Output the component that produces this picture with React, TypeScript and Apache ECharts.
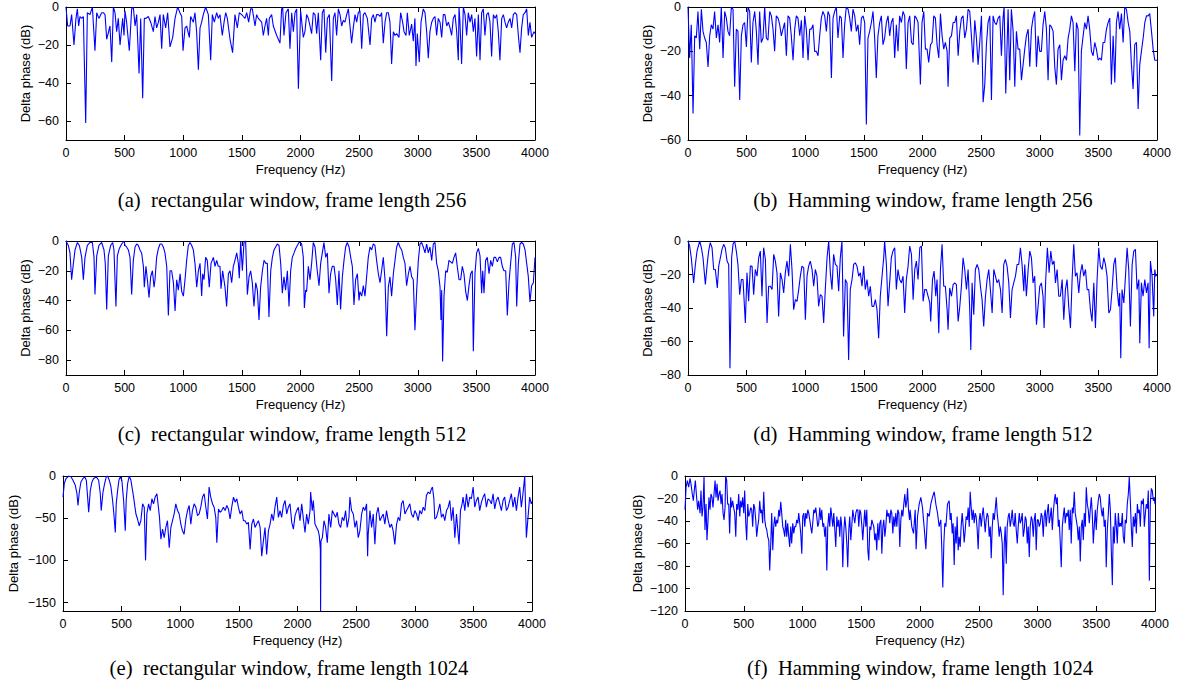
import React, { useEffect, useRef } from 'react';
import * as echarts from 'echarts';

type Pt = [number, number];

// ---------- data (frequency in Hz, delta phase in dB) ----------
const freqTicks = [0, 500, 1000, 1500, 2000, 2500, 3000, 3500, 4000];

const yTicksA = [0, -20, -40, -60];
const yTicksB = [0, -20, -40, -60];
const yTicksC = [0, -20, -40, -60, -80];
const yTicksD = [0, -20, -40, -60, -80];
const yTicksE = [0, -50, -100, -150];
const yTicksF = [0, -20, -40, -60, -80, -100, -120];

const yMinA = -70;
const yMinB = -60;
const yMinC = -90;
const yMinD = -80;
const yMinE = -160;
const yMinF = -120;

const captions = [
  '(a)\u00a0\u00a0rectangular window, frame length 256',
  '(b)\u00a0\u00a0Hamming window, frame length 256',
  '(c)\u00a0\u00a0rectangular window, frame length 512',
  '(d)\u00a0\u00a0Hamming window, frame length 512',
  '(e)\u00a0\u00a0rectangular window, frame length 1024',
  '(f)\u00a0\u00a0Hamming window, frame length 1024',
];

const rect256: Pt[] = [
  [0,0],[14,-10],[34,-10],[48,-4],[68,-20],[85,-6],[97,-1],[108,-10],[119,-5],[134,-6],[148,-5],[168,-61],[182,-3],[205,-4],[225,0],[247,-23],[262,-3],[281,-6],[304,-3],[318,-3],[333,-4],[347,-17],[375,-10],[390,-29],[404,0],[418,-3],[432,-13],[446,-6],[461,-20],[483,-6],[495,-15],[503,-2],[517,-8],[540,-23],[560,-1],[574,0],[589,-10],[603,-4],[623,-35],[637,-6],[654,-48],[668,-6],[682,-6],[702,-5],[722,-8],[745,-13],[759,-5],[773,-11],[788,-8],[802,-4],[816,-22],[830,-4],[850,-11],[867,-3],[887,-21],[910,-16],[930,-6],[952,0],[972,-3],[987,-5],[998,-23],[1015,-11],[1029,-10],[1052,-16],[1063,-5],[1086,-8],[1100,-3],[1114,-13],[1129,-33],[1143,-11],[1157,-8],[1171,-4],[1191,0],[1214,-4],[1234,-28],[1248,-4],[1265,-8],[1285,-3],[1299,-6],[1313,-4],[1333,-15],[1348,-8],[1362,-3],[1376,-6],[1399,-17],[1421,-24],[1441,-4],[1461,-11],[1478,-3],[1498,-4],[1512,-5],[1527,-6],[1541,-3],[1558,-8],[1575,-1],[1589,-1],[1612,-10],[1626,-4],[1640,-6],[1669,-8],[1683,-15],[1697,-10],[1711,-6],[1726,-15],[1734,-6],[1754,-4],[1768,-10],[1797,-15],[1825,-19],[1839,-1],[1848,0],[1859,-15],[1876,-3],[1896,-1],[1910,-22],[1925,-3],[1939,-13],[1953,-3],[1967,-1],[1982,-43],
  [2001,-2],[2024,-16],[2038,-13],[2052,-4],[2067,-6],[2081,-10],[2095,-14],[2109,-3],[2124,-4],[2138,-14],[2152,-3],[2172,-28],[2186,-3],[2200,-1],[2215,-24],[2229,-6],[2246,-4],[2266,-39],[2280,-6],[2294,-3],[2308,-15],[2323,-1],[2337,-4],[2351,-10],[2365,-7],[2379,-8],[2394,-4],[2408,-1],[2422,-10],[2436,-19],[2450,-11],[2465,-4],[2479,-8],[2493,-3],[2507,-2],[2522,-22],[2536,-4],[2550,-3],[2570,-6],[2593,-20],[2607,-6],[2621,-4],[2635,-8],[2649,-4],[2664,-4],[2678,-5],[2692,-3],[2706,-19],[2721,-8],[2735,-3],[2749,-3],[2763,-8],[2777,-30],[2792,-13],[2806,-15],[2820,-14],[2840,-16],[2854,-3],[2871,-8],[2883,-13],[2900,-15],[2911,-3],[2928,-15],[2948,-9],[2962,-18],[2976,-6],[2985,-31],[2996,-14],[3013,-29],[3028,-8],[3047,-1],[3062,-3],[3076,-13],[3090,-27],[3104,-13],[3119,-8],[3133,-6],[3147,-5],[3161,-15],[3175,-6],[3190,-8],[3204,-16],[3218,-4],[3232,-4],[3247,-10],[3261,-8],[3275,-11],[3289,-15],[3303,-6],[3318,-4],[3332,-13],[3346,-28],[3352,0],[3360,-8],[3374,-30],[3389,0],[3403,-4],[3417,-15],[3431,-3],[3446,-8],[3460,-4],[3474,-13],[3488,-6],[3502,-26],[3517,-4],[3531,-28],[3545,-3],[3559,-1],[3573,-15],[3588,-4],[3602,-3],[3616,-8],[3630,-26],[3645,-4],[3659,-6],[3673,-4],[3687,-13],[3701,-28],[3716,-6],[3730,-4],[3744,-8],[3758,-11],[3772,-8],[3787,-6],[3801,-11],[3815,-4],[3829,-3],[3844,-4],[3858,-15],[3872,-24],[3886,-11],[3900,-4],[3915,-3],[3929,-1],[3943,-15],[3957,-8],[3971,-16],[3991,-13],[4000,-14],
];

const hamm256: Pt[] = [
  [0,0],[14,-23],[28,-8],[43,-48],[57,-13],[71,-14],[85,-2],[100,-19],[114,-1],[128,-11],[142,-14],[156,-16],[171,-27],[185,-13],[199,-8],[213,-10],[227,-2],[242,-14],[256,-8],[270,-16],[284,0],[299,-23],[313,-2],[327,-5],[341,-11],[355,-13],[370,0],[384,-1],[398,-36],[412,-10],[426,-11],[441,-42],[455,-13],[469,-8],[483,-7],[498,-18],[512,0],[526,-2],[540,-25],[554,-7],[569,-2],[583,-11],[597,-26],[611,-2],[625,-16],[640,-14],[654,0],[668,-14],[682,-15],[697,-2],[711,-4],[725,-10],[739,-20],[753,-4],[768,-5],[782,-8],[796,-13],[810,-10],[824,-7],[839,-22],[853,-4],[867,-5],[881,-13],[896,-24],[910,-10],[924,-4],[938,-5],[953,-13],[967,-6],[981,-23],[995,-4],[1009,-10],[1024,-24],[1038,-10],[1052,-10],[1066,-8],[1080,-20],[1095,-20],[1109,-22],[1123,-13],[1137,-5],[1151,-2],[1166,-4],[1180,-11],[1194,-2],[1208,-4],[1223,-32],[1237,-5],[1251,-2],[1265,0],[1279,-14],[1294,-4],[1308,-5],[1322,-23],[1336,-8],[1350,0],[1365,-1],[1379,-5],[1393,-11],[1407,-1],[1422,-4],[1436,-11],[1450,-8],[1464,-17],[1479,-5],[1493,-4],[1507,-7],[1521,-53],[1535,-14],[1549,-11],[1564,-7],[1578,-2],[1592,-14],[1606,-32],[1620,-13],[1635,-7],[1649,-4],[1663,-17],[1677,-14],[1692,-7],[1706,-4],[1720,-13],[1734,-7],[1748,-5],[1763,-23],[1777,-8],[1791,-20],[1805,-4],[1820,-7],[1834,-2],[1848,-4],[1862,-28],[1877,-7],[1891,-4],
  [1906,-16],[1920,-17],[1934,-4],[1948,-5],[1962,-7],[1982,-35],[1996,-7],[2011,-2],[2025,-19],[2039,-19],[2053,-25],[2068,-17],[2082,-16],[2096,-4],[2110,-5],[2124,-17],[2139,-23],[2153,-3],[2167,-13],[2181,-19],[2195,-16],[2210,-20],[2218,-36],[2232,-14],[2247,-13],[2261,-7],[2275,-7],[2289,-4],[2304,-22],[2318,-11],[2332,-5],[2346,-4],[2360,-14],[2375,-10],[2389,-1],[2403,-2],[2417,-13],[2431,-25],[2446,-6],[2460,-14],[2474,-26],[2488,-16],[2503,-4],[2517,-43],[2531,-35],[2545,-17],[2559,-7],[2574,-4],[2588,-42],[2602,-4],[2616,-7],[2630,-8],[2645,-5],[2659,-4],[2673,-22],[2687,-5],[2696,0],[2710,-39],[2730,-1],[2744,-33],[2758,-1],[2773,-11],[2787,-36],[2801,-11],[2815,-19],[2829,-19],[2844,-33],[2858,-26],[2872,-19],[2886,-13],[2901,-10],[2915,-27],[2929,-10],[2943,-5],[2957,-2],[2972,-27],[2986,-13],[3000,-20],[3014,-20],[3028,-8],[3043,-2],[3057,-10],[3071,-33],[3085,-8],[3100,-9],[3114,-11],[3128,-27],[3142,-35],[3156,-19],[3171,-17],[3185,-33],[3199,-24],[3213,-22],[3228,-24],[3242,-14],[3256,-10],[3270,-4],[3284,-7],[3299,-29],[3313,-7],[3327,-10],[3341,-58],[3355,-20],[3370,-13],[3384,-7],[3398,-10],[3412,-4],[3426,-10],[3441,-20],[3455,-22],[3469,-16],[3483,-19],[3498,-24],[3512,-23],[3526,-24],[3540,-16],[3554,-16],[3569,-10],[3583,-7],[3597,-5],[3611,-35],[3626,-13],[3640,-34],[3654,-7],[3668,-2],[3682,-10],[3697,-3],[3711,-16],[3725,0],[3739,-1],[3754,-7],[3768,-11],[3782,-26],[3796,-37],[3810,-17],[3825,-16],[3839,-46],[3853,-26],[3867,-20],[3882,-14],[3896,-7],[3910,-4],[3924,-4],[3938,-3],[3953,-11],[3967,-19],[3981,-24],[4000,-24],
];

const rect512: Pt[] = [
  [0,0],[20,-3],[34,-8],[48,-26],[63,-15],[77,-6],[97,-1],[114,-3],[134,-11],[148,-26],[162,-11],[182,-3],[205,-1],[225,-1],[239,-11],[247,-36],[262,-10],[281,-3],[304,-1],[324,-6],[335,-15],[347,-46],[361,-10],[381,-3],[398,-1],[409,-6],[426,-44],[438,-10],[455,-5],[475,-2],[495,0],[503,-3],[517,-4],[532,-6],[546,-11],[560,-36],[574,-13],[589,-4],[603,-2],[617,-3],[631,-6],[645,-8],[660,-17],[668,-31],[682,-17],[694,-26],[708,-38],[722,-24],[737,-20],[751,-31],[759,-26],[773,-11],[788,-5],[802,-2],[816,-2],[830,-4],[844,-8],[859,-17],[873,-50],[887,-20],[901,-20],[916,-28],[930,-47],[944,-26],[958,-33],[973,-22],[987,-34],[1001,-37],[1015,-26],[1029,-13],[1043,-3],[1058,-1],[1072,-3],[1086,-6],[1100,-15],[1115,-31],[1129,-20],[1143,-15],[1157,-37],[1166,-22],[1177,-26],[1191,-11],[1205,-13],[1222,-31],[1237,-15],[1257,-11],[1271,-17],[1285,-13],[1299,-17],[1313,-17],[1322,-32],[1336,-20],[1356,-31],[1370,-44],[1385,-22],[1399,-20],[1413,-28],[1427,-17],[1441,-13],[1456,-8],[1470,-15],[1478,-25],[1490,0],[1504,-20],[1518,-1],[1532,0],[1547,-36],[1561,-24],[1575,-20],[1589,-28],[1603,-44],[1618,-28],[1632,-33],[1646,-53],[1660,-31],[1675,-20],[1689,-13],[1703,-15],[1717,-15],[1731,-51],[1746,-20],[1760,-11],[1774,-6],[1788,-4],[1802,-2],[1817,-3],[1831,-15],[1845,-35],[1859,-24],[1873,-33],[1888,-20],[1902,-44],[1916,-20],[1930,-11],[1945,-8],[1959,-5],[1973,-3],[1987,-1],
  [1996,-1],[2010,-2],[2024,-11],[2033,-45],[2044,-33],[2052,-34],[2067,-17],[2081,-26],[2095,-15],[2109,-1],[2124,-4],[2132,-11],[2143,-20],[2158,-30],[2172,-15],[2186,-8],[2200,-1],[2215,-11],[2229,-8],[2243,-35],[2257,-22],[2271,-17],[2286,-17],[2300,-26],[2314,-43],[2328,-20],[2342,-46],[2357,-24],[2371,-13],[2385,-4],[2399,-1],[2414,-4],[2428,-11],[2442,-17],[2456,-43],[2470,-26],[2485,-22],[2499,-40],[2507,-34],[2522,-37],[2536,-30],[2550,-37],[2564,-24],[2578,-11],[2593,-4],[2607,-6],[2621,-2],[2635,-3],[2649,-13],[2664,-22],[2678,-28],[2692,-20],[2706,-11],[2721,-26],[2735,-64],[2749,-31],[2763,-24],[2777,-37],[2792,-22],[2806,-13],[2820,-4],[2834,-1],[2848,-4],[2863,-6],[2877,-11],[2891,-15],[2905,-30],[2920,-22],[2934,-17],[2948,-24],[2962,-26],[2976,-60],[2991,-33],[3005,-13],[3019,-2],[3033,-1],[3047,-4],[3062,-8],[3076,-2],[3090,-8],[3104,-4],[3119,-13],[3133,-2],[3147,-1],[3161,-15],[3175,-20],[3190,-31],[3198,-53],[3204,-33],[3212,-81],[3224,-37],[3238,-20],[3252,-21],[3266,-13],[3281,-14],[3295,-15],[3309,-11],[3323,-8],[3337,-17],[3352,-26],[3366,-26],[3380,-17],[3394,-22],[3409,-34],[3423,-40],[3437,-30],[3451,-22],[3465,-20],[3474,-74],[3488,-22],[3502,-8],[3517,-5],[3531,-10],[3545,-35],[3554,-20],[3565,-35],[3579,-13],[3593,-11],[3608,-22],[3622,-13],[3636,-17],[3650,-11],[3664,-11],[3679,-14],[3693,-11],[3707,-11],[3721,-17],[3735,-20],[3750,-20],[3764,-50],[3778,-28],[3792,-15],[3807,-2],[3821,-1],[3835,-11],[3844,-44],[3858,-15],[3872,-2],[3886,-1],[3900,-2],[3915,-6],[3929,-15],[3943,-24],[3957,-41],[3971,-30],[3986,-28],[4000,-11],
];

const hamm512: Pt[] = [
  [0,0],[14,-3],[28,-10],[48,-25],[63,-14],[77,-6],[100,0],[114,-4],[128,-10],[148,-26],[162,-15],[176,-6],[190,-1],[205,-4],[219,-17],[233,-17],[250,-28],[262,-15],[276,-10],[290,-5],[304,-2],[318,-4],[333,-12],[347,-14],[358,-76],[372,-10],[384,-2],[398,0],[412,-6],[426,-14],[441,-32],[455,-23],[469,-23],[489,-49],[503,-19],[517,-36],[532,-15],[546,-15],[560,-32],[574,-17],[589,-21],[603,-10],[617,-6],[631,-33],[645,-4],[660,-11],[674,-49],[688,-27],[702,-27],[717,-29],[731,-8],[745,-12],[759,-19],[773,-45],[788,-19],[802,-23],[816,-31],[830,-19],[844,-12],[859,-21],[873,-2],[887,-17],[901,-41],[916,-35],[930,-36],[944,-29],[958,-21],[972,-15],[987,-16],[1001,-47],[1015,-21],[1029,-15],[1043,-12],[1058,-17],[1072,-27],[1086,-17],[1100,-21],[1114,-39],[1129,-32],[1143,-33],[1157,-49],[1171,-29],[1186,-10],[1200,0],[1214,-19],[1228,-29],[1242,-8],[1257,-14],[1271,-15],[1285,-30],[1299,-10],[1313,0],[1327,-57],[1342,-23],[1356,-25],[1370,-71],[1384,-29],[1399,-23],[1413,-14],[1427,-13],[1441,-15],[1456,-21],[1470,-19],[1484,-27],[1498,-15],[1512,-29],[1527,-23],[1541,-33],[1555,-27],[1569,-39],[1584,-39],[1598,-35],[1612,-41],[1626,-58],[1640,-33],[1655,-21],[1669,-10],[1677,0],[1692,-14],[1706,-39],[1720,-25],[1734,-10],[1748,-6],[1763,-4],[1777,-29],[1791,-17],[1805,-23],[1820,-25],[1834,-21],[1848,-43],[1862,-23],[1877,-15],
  [1891,-3],[1906,-8],[1920,-35],[1934,-17],[1948,-12],[1962,-23],[1977,-4],[1991,-3],[2005,-36],[2019,-29],[2033,-29],[2048,-33],[2062,-37],[2070,-48],[2085,-23],[2099,-18],[2113,-33],[2124,-23],[2139,-55],[2153,-17],[2167,-2],[2181,-27],[2195,-27],[2210,-41],[2218,-53],[2232,-28],[2247,-33],[2261,-26],[2275,-25],[2289,-26],[2304,-48],[2318,-39],[2332,-27],[2346,-10],[2360,-17],[2375,-29],[2389,-17],[2403,-41],[2412,-65],[2423,-25],[2437,-44],[2451,-17],[2466,-14],[2480,-17],[2494,-27],[2508,-35],[2522,-51],[2537,-33],[2551,-23],[2565,-17],[2579,-29],[2594,-43],[2608,-17],[2622,-21],[2636,-25],[2650,-23],[2665,-29],[2679,-43],[2693,-14],[2707,-11],[2721,-15],[2736,-25],[2750,-46],[2764,-29],[2778,-25],[2793,-21],[2807,-14],[2821,-14],[2835,-4],[2849,-14],[2864,-30],[2872,-14],[2886,-33],[2901,-17],[2915,-6],[2929,-10],[2943,-25],[2957,-21],[2972,-50],[2986,-39],[3000,-27],[3014,-25],[3028,-33],[3037,-52],[3051,-23],[3065,-4],[3080,-19],[3094,-6],[3108,-14],[3122,-12],[3134,-25],[3148,-17],[3162,-33],[3176,-33],[3191,-23],[3205,-47],[3219,-29],[3233,-23],[3247,-39],[3262,-52],[3276,-23],[3290,-2],[3304,-21],[3318,-19],[3333,-31],[3347,-19],[3361,-14],[3375,-21],[3390,-17],[3404,-29],[3418,-29],[3432,-41],[3446,-48],[3461,-25],[3475,-52],[3489,-23],[3503,-4],[3517,-15],[3532,-17],[3546,-10],[3560,-14],[3574,-21],[3589,-43],[3603,-41],[3617,-29],[3631,-14],[3645,-10],[3660,-29],[3674,-39],[3682,-31],[3691,-70],[3702,-29],[3717,-37],[3731,-21],[3745,-4],[3759,-17],[3773,-51],[3788,-14],[3802,-6],[3816,-5],[3830,-29],[3845,-23],[3853,-61],[3867,-25],[3881,-33],[3896,-23],[3910,-31],[3924,-25],[3933,-64],[3944,-12],[3958,-21],[3972,-45],[3981,-17],[3989,-21],[4000,-20],
];

const rect1024: Pt[] = [
  [0,-25],[11,-9],[26,-3],[48,0],[68,-1],[85,-5],[105,-11],[119,-21],[128,-35],[139,-19],[153,-7],[170,-3],[185,-1],[199,-5],[210,-25],[219,-43],[233,-17],[247,-7],[261,-3],[284,-1],[304,-5],[318,-21],[326,-41],[341,-19],[355,-9],[369,-1],[380,0],[395,-5],[409,-13],[423,-29],[434,-45],[446,-67],[454,-33],[466,-17],[477,-5],[488,-1],[502,-5],[517,-29],[531,-65],[539,-29],[551,-9],[565,0],[579,-5],[593,-17],[602,-25],[610,-33],[622,-45],[636,-51],[650,-59],[664,-53],[679,-33],[693,-37],[704,-100],[715,-45],[730,-33],[744,-41],[758,-27],[772,-33],[786,-25],[801,-21],[812,-35],[823,-49],[835,-75],[849,-63],[863,-73],[877,-61],[891,-53],[906,-85],[920,-61],[934,-53],[948,-45],[962,-33],[977,-41],[991,-45],[1005,-57],[1019,-65],[1033,-69],[1048,-51],[1062,-41],[1076,-35],[1090,-57],[1104,-41],[1119,-33],[1133,-37],[1147,-47],[1161,-45],[1175,-37],[1190,-25],[1204,-21],[1218,-37],[1232,-51],[1246,-13],[1260,-25],[1275,-33],[1289,-37],[1303,-49],[1312,-79],[1326,-39],[1340,-43],[1354,-41],[1368,-37],[1383,-41],[1397,-35],[1411,-39],[1425,-51],[1439,-37],[1454,-25],[1468,-31],[1482,-27],[1496,-37],[1510,-45],[1525,-41],[1539,-53],[1553,-53],[1567,-57],[1581,-55],[1596,-87],[1610,-57],[1624,-51],[1638,-61],[1652,-57],[1667,-53],[1681,-61],[1695,-95],[1709,-77],[1723,-61],[1737,-93],[1752,-65],[1766,-57],[1780,-45],[1794,-53],[1808,-37],[1823,-25],[1837,-49],[1851,-41],[1865,-49],[1879,-35],[1894,-29],[1908,-45],[1922,-37],[1936,-33],[1951,-55],[1965,-63],[1979,-47],[1993,-41],[2007,-37],[2021,-53],
  [2036,-33],[2050,-51],[2064,-67],[2078,-45],[2092,-57],[2107,-41],[2112,-19],[2126,-41],[2135,-29],[2149,-57],[2163,-61],[2177,-65],[2186,-71],[2195,-87],[2197,-160],[2200,-77],[2212,-73],[2226,-53],[2240,-61],[2254,-79],[2268,-45],[2283,-61],[2297,-41],[2311,-45],[2325,-49],[2339,-43],[2353,-57],[2368,-61],[2382,-49],[2396,-53],[2410,-41],[2424,-61],[2439,-49],[2447,-25],[2461,-41],[2476,-45],[2490,-61],[2504,-53],[2518,-73],[2532,-65],[2547,-45],[2561,-37],[2575,-41],[2589,-33],[2598,-95],[2603,-69],[2618,-41],[2632,-61],[2646,-45],[2660,-81],[2674,-45],[2688,-37],[2703,-53],[2717,-49],[2731,-45],[2745,-57],[2759,-41],[2774,-53],[2788,-61],[2802,-57],[2816,-65],[2830,-81],[2845,-57],[2859,-49],[2873,-53],[2887,-33],[2901,-29],[2916,-45],[2930,-41],[2944,-37],[2958,-33],[2972,-45],[2987,-49],[3001,-41],[3015,-45],[3029,-53],[3043,-41],[3058,-45],[3072,-37],[3086,-41],[3100,-23],[3114,-19],[3129,-21],[3143,-15],[3151,-13],[3163,-27],[3171,-51],[3185,-49],[3200,-41],[3214,-33],[3228,-49],[3242,-45],[3256,-53],[3271,-41],[3285,-37],[3299,-29],[3313,-53],[3327,-37],[3342,-73],[3356,-45],[3370,-69],[3378,-81],[3390,-41],[3404,-33],[3412,-25],[3427,-41],[3441,-21],[3455,-37],[3469,-25],[3483,-27],[3498,-13],[3512,-37],[3526,-29],[3540,-25],[3554,-41],[3569,-31],[3583,-25],[3597,-21],[3611,-37],[3625,-27],[3640,-29],[3654,-33],[3668,-21],[3682,-39],[3696,-29],[3711,-25],[3725,-33],[3739,-41],[3753,-29],[3767,-25],[3782,-41],[3796,-37],[3810,-29],[3824,-21],[3838,-37],[3853,-25],[3867,-41],[3881,-25],[3895,-13],[3909,-37],[3923,-21],[3938,0],[3946,-41],[3952,-73],[3966,-49],[3980,-25],[3994,-33],[4000,-30],
];

const hamm1024: Pt[] = [
  [0,-30],[9,-10],[20,-4],[31,-10],[43,-2],[51,-7],[62,-16],[71,-22],[79,-13],[88,-4],[99,-19],[108,-30],[116,-22],[128,-33],[136,-13],[145,-36],[153,-28],[162,0],[170,-48],[179,-25],[187,-57],[196,-39],[204,-19],[213,-30],[221,-16],[230,-19],[238,-28],[247,-16],[256,-4],[264,-19],[273,-7],[281,-22],[290,-16],[298,-13],[307,-25],[315,-16],[324,-33],[332,-39],[341,-28],[346,0],[355,-4],[363,-25],[372,-25],[380,-51],[389,-19],[397,-28],[406,-22],[414,-28],[423,-33],[432,-54],[440,-25],[449,-30],[457,-16],[466,-36],[474,-22],[483,-28],[491,-19],[500,-33],[508,-13],[517,-42],[525,-57],[534,-25],[542,-36],[551,-33],[559,-28],[568,-30],[576,-45],[585,-25],[593,-28],[602,-39],[610,-54],[619,-45],[627,-39],[636,-22],[644,-33],[653,-30],[661,-42],[670,-14],[679,-39],[687,-45],[696,-48],[704,-54],[713,-57],[721,-84],[730,-60],[738,-33],[747,-66],[755,-45],[764,-36],[772,-45],[781,-39],[789,-42],[798,-30],[806,-36],[815,-23],[823,-33],[832,-45],[840,-48],[849,-54],[857,-39],[866,-54],[874,-42],[883,-54],[891,-63],[900,-45],[908,-60],[917,-42],[926,-51],[934,-45],[943,-45],[951,-39],[960,-42],[968,-33],[977,-42],[985,-51],[994,-69],[1002,-36],[1011,-33],[1019,-45],[1028,-33],[1036,-38],[1045,-30],[1053,-33],[1062,-39],[1070,-45],[1079,-51],[1087,-42],[1096,-30],[1104,-33],[1113,-28],[1121,-36],[1130,-45],[1138,-42],[1147,-28],[1156,-39],[1164,-30],[1173,-45],[1181,-42],[1190,-54],[1198,-45],[1207,-84],[1215,-45],[1224,-33],[1232,-45],[1241,-28],[1249,-36],[1258,-45],[1266,-33],[1275,-48],[1283,-63],[1292,-36],[1300,-45],[1309,-39],[1317,-54],[1326,-36],[1334,-45],[1343,-81],[1351,-51],[1360,-36],[1368,-45],[1377,-60],[1385,-81],[1394,-48],[1402,-36],[1411,-57],[1419,-45],[1428,-30],[1436,-36],[1445,-42],[1454,-33],[1462,-30],[1471,-30],[1479,-45],[1488,-30],[1496,-33],[1505,-44],[1513,-57],[1522,-42],[1530,-30],[1539,-45],[1547,-30],[1556,-66],[1564,-75],[1573,-45],[1581,-48],[1590,-39],[1598,-42],[1607,-45],[1615,-57],[1624,-51],[1632,-66],[1641,-42],[1650,-57],[1658,-42],[1667,-39],[1675,-69],[1684,-45],[1692,-39],[1701,-54],[1709,-45],[1718,-30],[1726,-36],[1735,-33],[1743,-42],[1752,-30],[1760,-33],[1769,-51],[1777,-36],[1786,-45],[1794,-33],[1803,-45],[1811,-30],[1820,-33],[1828,-63],[1837,-39],[1845,-30],[1854,-36],[1862,-25],[1871,-16],[1879,-28],[1888,-22],[1894,-11],[1902,-30],[1911,-39],
  [1916,-30],[1930,-45],[1945,-51],[1959,-30],[1967,-65],[1979,-36],[1993,-25],[2007,-19],[2021,-28],[2035,-45],[2050,-65],[2064,-33],[2078,-36],[2092,-25],[2106,-19],[2121,-14],[2135,-25],[2149,-33],[2163,-45],[2177,-39],[2186,-66],[2194,-99],[2203,-60],[2211,-42],[2220,-45],[2234,-25],[2248,-22],[2257,-39],[2265,-33],[2274,-51],[2282,-42],[2291,-79],[2299,-45],[2308,-60],[2316,-36],[2325,-66],[2333,-54],[2342,-63],[2350,-45],[2359,-33],[2368,-45],[2376,-59],[2385,-48],[2393,-36],[2402,-39],[2410,-28],[2419,-45],[2427,-14],[2436,-28],[2444,-39],[2453,-30],[2461,-42],[2470,-33],[2478,-36],[2487,-48],[2495,-65],[2504,-39],[2512,-33],[2521,-45],[2529,-36],[2538,-28],[2546,-38],[2555,-50],[2563,-39],[2572,-33],[2580,-36],[2589,-54],[2598,-45],[2606,-73],[2615,-45],[2623,-33],[2632,-39],[2640,-30],[2649,-19],[2657,-33],[2666,-42],[2674,-54],[2683,-45],[2691,-50],[2700,-60],[2708,-106],[2717,-60],[2725,-45],[2734,-78],[2742,-45],[2751,-36],[2759,-33],[2768,-45],[2776,-39],[2785,-30],[2793,-42],[2802,-45],[2810,-33],[2819,-48],[2828,-60],[2836,-45],[2845,-33],[2853,-42],[2862,-39],[2870,-33],[2879,-54],[2887,-48],[2896,-36],[2904,-39],[2913,-60],[2921,-45],[2930,-72],[2938,-45],[2947,-36],[2955,-39],[2964,-54],[2972,-39],[2981,-33],[2989,-66],[2998,-39],[3006,-39],[3015,-45],[3023,-42],[3032,-33],[3040,-36],[3049,-54],[3057,-36],[3066,-30],[3074,-45],[3083,-33],[3092,-25],[3100,-42],[3109,-36],[3117,-28],[3126,-48],[3134,-33],[3143,-22],[3151,-16],[3160,-25],[3168,-19],[3177,-45],[3185,-39],[3194,-60],[3202,-81],[3211,-45],[3219,-36],[3228,-28],[3236,-42],[3245,-33],[3253,-36],[3262,-30],[3270,-48],[3279,-30],[3287,-60],[3296,-28],[3304,-33],[3313,-14],[3321,-33],[3330,-39],[3339,-45],[3347,-57],[3356,-45],[3364,-76],[3373,-45],[3381,-39],[3390,-57],[3398,-33],[3407,-45],[3415,-10],[3424,-25],[3432,-30],[3441,-42],[3449,-30],[3458,-19],[3466,-33],[3475,-60],[3483,-45],[3492,-30],[3500,-48],[3509,-30],[3517,-22],[3526,-16],[3534,-19],[3543,-30],[3551,-36],[3560,-28],[3568,-45],[3577,-39],[3585,-81],[3594,-48],[3603,-33],[3611,-16],[3620,-30],[3628,-66],[3637,-97],[3645,-45],[3654,-60],[3662,-33],[3671,-45],[3679,-60],[3688,-33],[3696,-45],[3705,-42],[3713,-45],[3722,-33],[3730,-54],[3739,-60],[3747,-39],[3756,-42],[3764,-25],[3773,-16],[3781,-1],[3790,-22],[3798,-45],[3807,-63],[3815,-36],[3824,-45],[3833,-33],[3841,-51],[3850,-25],[3858,-33],[3867,-30],[3875,-45],[3884,-22],[3892,-25],[3901,-20],[3909,-45],[3918,-33],[3926,-25],[3935,-29],[3943,-13],[3952,-93],[3960,-25],[3969,-11],[3977,-13],[3986,-22],[3994,-19],[4000,-25],
];

// ---------- layout (pixels) ----------
const layout = [
  { left: 66, top: 7, width: 469, height: 133, yNameGap: 34, capX: 292, capY: 200 },
  { left: 688, top: 7, width: 469, height: 133, yNameGap: 34, capX: 923, capY: 200 },
  { left: 66, top: 241, width: 469, height: 134, yNameGap: 34, capX: 292, capY: 434 },
  { left: 688, top: 241, width: 469, height: 134, yNameGap: 34, capX: 923, capY: 434 },
  { left: 63, top: 476, width: 469, height: 135, yNameGap: 43, capX: 289, capY: 668 },
  { left: 685, top: 476, width: 470, height: 135, yNameGap: 41, capX: 920, capY: 668 },
];

const seriesData = [rect256, hamm256, rect512, hamm512, rect1024, hamm1024];
const yTicks = [yTicksA, yTicksB, yTicksC, yTicksD, yTicksE, yTicksF];
const yMins = [yMinA, yMinB, yMinC, yMinD, yMinE, yMinF];

const SANS = '"Liberation Sans", Arial, Helvetica, sans-serif';
const SERIF = '"Liberation Serif", "Times New Roman", Times, serif';

function buildOption() {
  const lineStyle = { color: '#000', width: 1 };
  const grid: any[] = [];
  const xAxis: any[] = [];
  const yAxis: any[] = [];
  const series: any[] = [];
  const graphic: any[] = [];
  const minus = (v: number) => String(v).replace('-', '\u2212');
  const plain = (v: number) => String(v);

  layout.forEach((L, i) => {
    grid.push({ left: L.left, top: L.top, width: L.width, height: L.height, containLabel: false, outerBoundsMode: 'none' });
    const tickCommon = { show: true, inside: true, length: 5, lineStyle };
    xAxis.push({
      type: 'value', gridIndex: i, min: 0, max: 4000, position: 'bottom',
      axisLine: { show: true, onZero: false, lineStyle },
      axisTick: { ...tickCommon, customValues: freqTicks },
      axisLabel: { show: true, customValues: freqTicks, fontSize: 12.5, color: '#000', margin: 6, fontFamily: SANS, formatter: plain },
      splitLine: { show: false },
      name: 'Frequency (Hz)', nameLocation: 'middle', nameGap: 23,
      nameTextStyle: { fontSize: 13, color: '#000', fontFamily: SANS },
    });
    xAxis.push({
      type: 'value', gridIndex: i, min: 0, max: 4000, position: 'top',
      axisLine: { show: true, onZero: false, lineStyle },
      axisTick: { ...tickCommon, customValues: freqTicks },
      axisLabel: { show: false },
      splitLine: { show: false },
    });
    yAxis.push({
      type: 'value', gridIndex: i, min: yMins[i], max: 0, position: 'left',
      axisLine: { show: true, onZero: false, lineStyle },
      axisTick: { ...tickCommon, customValues: yTicks[i] },
      axisLabel: { show: true, customValues: yTicks[i], fontSize: 12.5, color: '#000', margin: 7, fontFamily: SANS, formatter: minus },
      splitLine: { show: false },
      name: 'Delta phase (dB)', nameLocation: 'middle', nameGap: L.yNameGap,
      nameTextStyle: { fontSize: 13, color: '#000', fontFamily: SANS },
    });
    yAxis.push({
      type: 'value', gridIndex: i, min: yMins[i], max: 0, position: 'right',
      axisLine: { show: true, onZero: false, lineStyle },
      axisTick: { ...tickCommon, customValues: yTicks[i] },
      axisLabel: { show: false },
      splitLine: { show: false },
    });
    series.push({
      type: 'line', xAxisIndex: 2 * i, yAxisIndex: 2 * i, data: seriesData[i],
      showSymbol: false, symbol: 'none', silent: true, clip: true,
      lineStyle: { color: '#0000ff', width: 1.1 }, itemStyle: { color: '#0000ff' },
    });
    graphic.push({
      type: 'text', x: L.capX, y: L.capY, silent: true,
      style: { text: captions[i], fontSize: 20.7, fontFamily: SERIF, fill: '#000', textAlign: 'center', textVerticalAlign: 'middle' },
    });
  });

  return { animation: false, backgroundColor: '#fff', grid, xAxis, yAxis, series, graphic };
}

export default function App() {
  const ref = useRef<HTMLDivElement>(null);
  useEffect(() => {
    if (!ref.current) return;
    const chart = echarts.init(ref.current, undefined, { renderer: 'svg' });
    chart.setOption(buildOption() as any);
    return () => chart.dispose();
  }, []);
  return (
    <div
      ref={ref}
      style={{ position: 'absolute', left: 0, top: 0, width: 1180, height: 686, background: '#fff' }}
    />
  );
}
